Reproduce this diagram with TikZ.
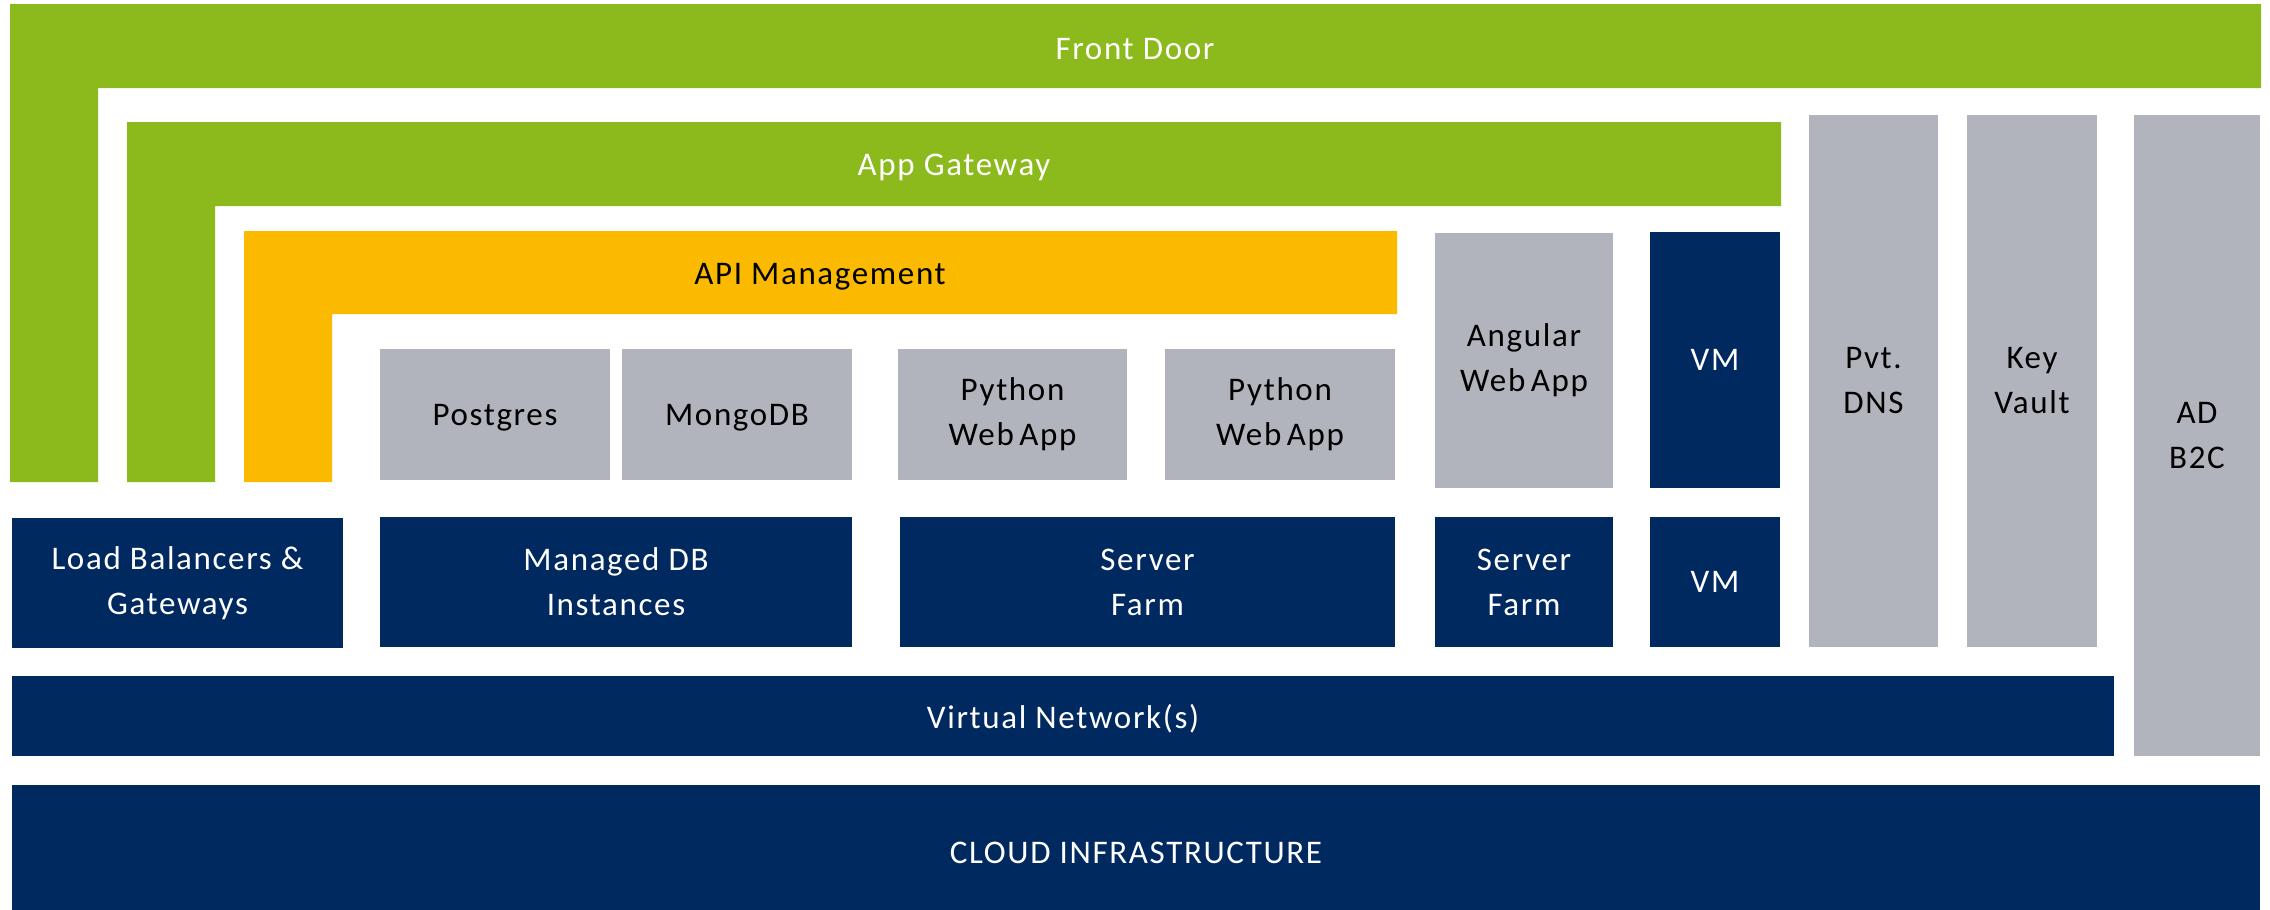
\documentclass[tikz,border=0pt]{standalone}
\usepackage{fontspec}
\setmainfont{Carlito}[LetterSpace=5]
\definecolor{fdgreen}{HTML}{8CBA1C}
\definecolor{apiorange}{HTML}{FBBA00}
\definecolor{svcgray}{HTML}{B1B4BC}
\definecolor{navyblue}{HTML}{002960}
\begin{document}
\begin{tikzpicture}[x=0.5pt, y=-0.5pt,
  lbl/.style={font=\fontsize{16.5}{22.5}\selectfont, align=center, inner sep=0pt},
  blk/.style={lbl, draw=none, inner sep=0pt, outer sep=0pt},
  navybox/.style={blk, fill=navyblue, text=white},
  graybox/.style={blk, fill=svcgray, text=black},
  oneline/.style={text depth=0pt}]
\useasboundingbox (0,0) rectangle (2270,910);
\fill[white] (0,0) rectangle (2270,910);

% L-shaped layers
\fill[fdgreen] (10,4) -- (2261,4) -- (2261,88) -- (98,88) -- (98,482) -- (10,482) -- cycle;
\node[lbl, text=white, anchor=base] (frontdoor) at (1135,59) {Front Door};
\fill[fdgreen] (127,122) -- (1781,122) -- (1781,206) -- (215,206) -- (215,482) -- (127,482) -- cycle;
\node[lbl, text=white, anchor=base] (appgw) at (954,175) {App Gateway};
\fill[apiorange] (244,231) -- (1397,231) -- (1397,314) -- (332,314) -- (332,482) -- (244,482) -- cycle;
\node[lbl, text=black, anchor=base] (apim) at (820,284) {API Management};

% gray services
\node[graybox, oneline, minimum width=115pt, minimum height=65.5pt] (postgres) at (495,414.5) {Postgres};
\node[graybox, oneline, minimum width=115pt, minimum height=65.5pt] (mongo) at (737,414.5) {MongoDB};
\node[graybox, minimum width=114.5pt, minimum height=65.5pt] (py1) at (1012.5,414.5) {Python\\Web\,App};
\node[graybox, minimum width=115pt, minimum height=65.5pt] (py2) at (1280,414.5) {Python\\Web\,App};
\node[graybox, minimum width=89pt, minimum height=127.5pt] (angular) at (1524,360.5) {Angular\\Web\,App};
\node[navybox, oneline, minimum width=65pt, minimum height=128pt] (vmtop) at (1715,360) {VM};
\node[graybox, minimum width=64.5pt, minimum height=266pt] (dns) at (1873.5,381) {Pvt.\\DNS};
\node[graybox, minimum width=65pt, minimum height=266pt] (kv) at (2032,381) {Key\\Vault};
\node[graybox, minimum width=63pt, minimum height=320.5pt] (adb2c) at (2197,435.5) {AD\\B2C};

% navy infrastructure
\node[navybox, minimum width=165.5pt, minimum height=65pt] (lb) at (177.5,583) {Load Balancers \&\\Gateways};
\node[navybox, minimum width=236pt, minimum height=65pt] (mdb) at (616,582) {Managed DB\\Instances};
\node[navybox, minimum width=247.5pt, minimum height=65pt] (sf1) at (1147.5,582) {Server\\Farm};
\node[navybox, minimum width=89pt, minimum height=65pt] (sf2) at (1524,582) {Server\\Farm};
\node[navybox, oneline, minimum width=65pt, minimum height=65pt] (vmbot) at (1715,582) {VM};
\fill[navyblue] (12,676) rectangle (2114,756);
\node[lbl, text=white, anchor=base] (vnet) at (1063,728) {Virtual Network(s)};
\fill[navyblue] (12,785) rectangle (2260,910);
\node[lbl, text=white, anchor=base] (cloud) at (1136,863) {CLOUD INFRASTRUCTURE};
\end{tikzpicture}
\end{document}
